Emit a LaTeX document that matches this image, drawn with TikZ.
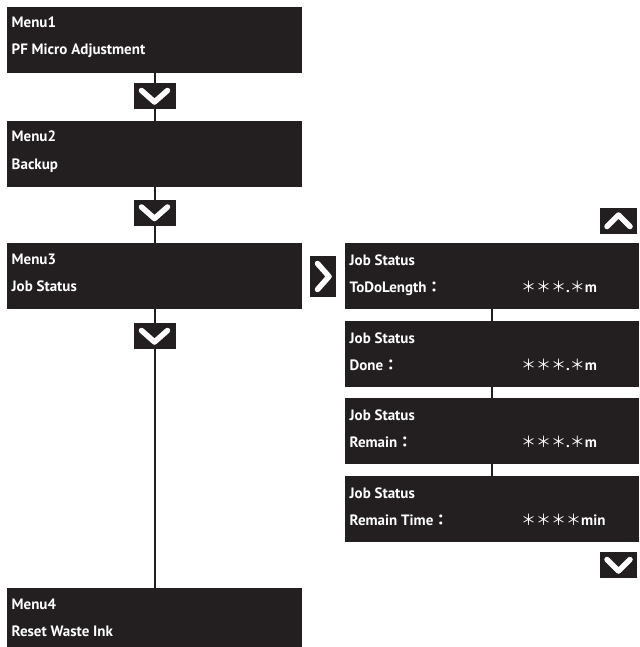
\documentclass[tikz,border=0pt]{standalone}
\usepackage{fontspec}
\setmainfont{PT Sans}
\newfontfamily\cjk{Noto Sans CJK JP}
\definecolor{panelgray}{HTML}{231F20}
\newcommand\asx{{\cjk\mdseries ＊}}
\newcommand\fcol{{\cjk ：}}

\begin{document}
\begin{tikzpicture}[x=1pt,y=-1pt,
  panel/.style={fill=panelgray,draw=none,inner sep=0pt,anchor=north west,minimum width=295pt,minimum height=66pt},
  txt/.style={text=white,font=\bfseries\fontsize{15}{17}\selectfont,anchor=base west,inner sep=0pt},
  link/.style={draw=panelgray,line width=2pt},
  key/.style={fill=panelgray,draw=none,inner sep=0pt,minimum width=42pt,minimum height=26pt},
  chev/.style={draw=white,line width=5.5pt,line cap=round,line join=round}]
\useasboundingbox (0,0) rectangle (639,647);

% main menu
\foreach \n/\t/\a/\b in {m1/7/Menu1/PF Micro Adjustment,m2/121/Menu2/Backup,m3/243/Menu3/Job Status,m4/588/Menu4/Reset Waste Ink}{
  \node[panel] (\n) at (7,\t) {};
  \node[txt] (\n-a) at ([shift={(4.5,21)}]\n.north west) {\a};
  \node[txt] (\n-b) at ([shift={(4.5,48)}]\n.north west) {\b};
}

% job status screens
\foreach \n/\t/\k/\v in {s1/243/ToDoLength/{\asx\asx\asx.\asx m},s2/321/Done/{\asx\asx\asx.\asx m},s3/398/Remain/{\asx\asx\asx.\asx m},s4/476/Remain Time/{\asx\asx\asx\asx min}}{
  \node[panel,minimum width=294pt] (\n) at (345,\t) {};
  \node[txt] (\n-a) at ([shift={(4.5,22)}]\n.north west) {Job Status};
  \node[txt] (\n-b) at ([shift={(4.5,49)}]\n.north west) {\k\fcol};
  \node[txt] (\n-v) at ([shift={(176,49)}]\n.north west) {\v};
}

\draw[link] (m1.south)--(m2.north);
\draw[link] (m2.south)--(m3.north);
\draw[link] (m3.south)--(m4.north);
\draw[link] (s1.south)--(s2.north);
\draw[link] (s2.south)--(s3.north);
\draw[link] (s3.south)--(s4.north);

% keys
\node[key] (k1) at (154.5,96) {};
\node[key] (k2) at (154.5,212.5) {};
\node[key] (k3) at (154.5,336) {};
\node[key,minimum width=37pt] (kd) at (618.5,565) {};
\node[key,minimum width=37pt] (ku) at (618.5,221) {};
\node[key,minimum width=26pt,minimum height=41pt] (kr) at (323,276.5) {};

\foreach \k/\w in {k1/13,k2/13,k3/13,kd/11.5}
  \draw[chev] ([shift={(-\w,-5.5)}]\k.center)--([shift={(0,6)}]\k.center)--([shift={(\w,-5.5)}]\k.center);
\draw[chev] ([shift={(-11.5,5.5)}]ku.center)--([shift={(0,-6)}]ku.center)--([shift={(11.5,5.5)}]ku.center);
\draw[chev] ([shift={(-5.5,-13)}]kr.center)--([shift={(6,0)}]kr.center)--([shift={(-5.5,13)}]kr.center);

\end{tikzpicture}
\end{document}
